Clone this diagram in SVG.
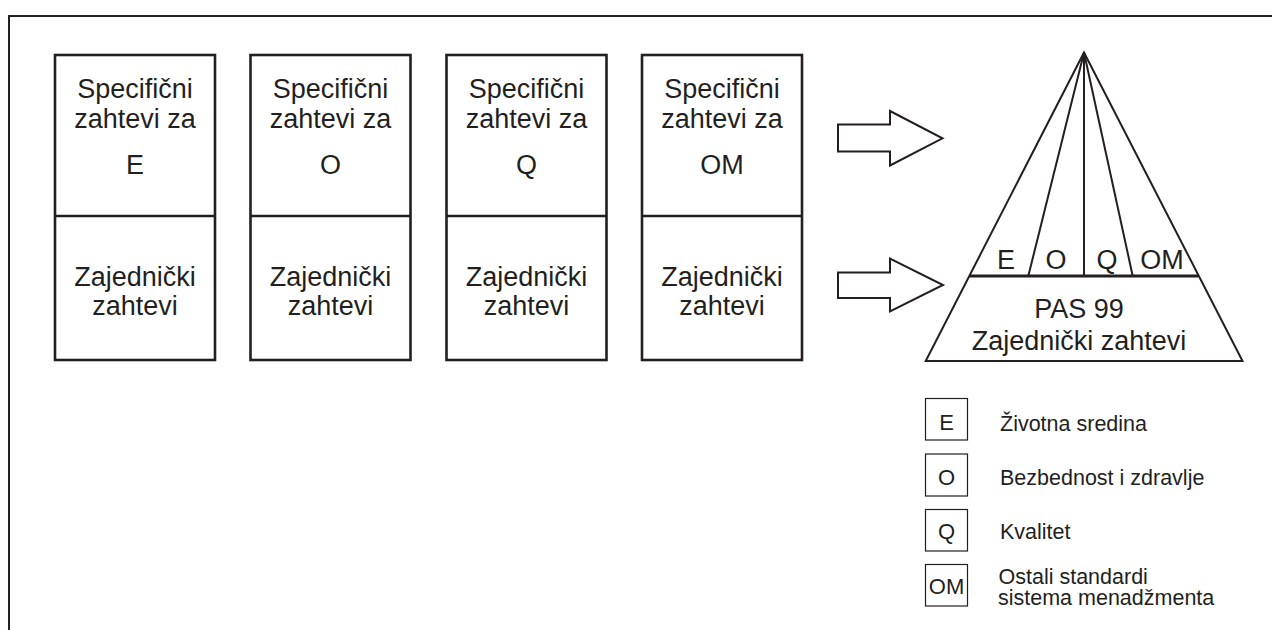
<svg xmlns="http://www.w3.org/2000/svg" width="1272" height="630" viewBox="0 0 1272 630">
<style>
.ln{fill:none;stroke:#231f20;stroke-linejoin:miter}
.box{fill:#fff;stroke:#231f20;stroke-width:2.6}
.t{font-family:"Liberation Sans",Arial,sans-serif;fill:#231f20;text-anchor:middle}
.big{font-size:27px}
.lg{font-size:22px}
.ll{font-family:"Liberation Sans",Arial,sans-serif;fill:#231f20;font-size:21.5px}
</style>
<rect x="0" y="0" width="1272" height="630" fill="#fff"/>
<rect id="frame" x="9" y="16" width="1280" height="640" class="ln" stroke-width="2"/>

<g id="box-e">
<rect class="box" x="55" y="55" width="160" height="305"/>
<line class="ln" stroke-width="2.6" x1="55" y1="216" x2="215" y2="216"/>
<text class="t big" x="135" y="98">Specifični</text>
<text class="t big" x="135" y="127.5">zahtevi za</text>
<text class="t big" x="135" y="173.5">E</text>
<text class="t big" x="135" y="286">Zajednički</text>
<text class="t big" x="135" y="315">zahtevi</text>
</g>
<g id="box-o">
<rect class="box" x="250.5" y="55" width="160" height="305"/>
<line class="ln" stroke-width="2.6" x1="250.5" y1="216" x2="410.5" y2="216"/>
<text class="t big" x="330.5" y="98">Specifični</text>
<text class="t big" x="330.5" y="127.5">zahtevi za</text>
<text class="t big" x="330.5" y="173.5">O</text>
<text class="t big" x="330.5" y="286">Zajednički</text>
<text class="t big" x="330.5" y="315">zahtevi</text>
</g>
<g id="box-q">
<rect class="box" x="446.5" y="55" width="160" height="305"/>
<line class="ln" stroke-width="2.6" x1="446.5" y1="216" x2="606.5" y2="216"/>
<text class="t big" x="526.5" y="98">Specifični</text>
<text class="t big" x="526.5" y="127.5">zahtevi za</text>
<text class="t big" x="526.5" y="173.5">Q</text>
<text class="t big" x="526.5" y="286">Zajednički</text>
<text class="t big" x="526.5" y="315">zahtevi</text>
</g>
<g id="box-om">
<rect class="box" x="642" y="55" width="160" height="305"/>
<line class="ln" stroke-width="2.6" x1="642" y1="216" x2="802" y2="216"/>
<text class="t big" x="722" y="98">Specifični</text>
<text class="t big" x="722" y="127.5">zahtevi za</text>
<text class="t big" x="722" y="173.5">OM</text>
<text class="t big" x="722" y="286">Zajednički</text>
<text class="t big" x="722" y="315">zahtevi</text>
</g>

<g id="connectors">
<polygon class="ln" stroke-width="2" fill="#fff" points="838,124.5 890,124.5 890,111 942.5,138.3 890,165.5 890,151.5 838,151.5"/>
<polygon class="ln" stroke-width="2" fill="#fff" points="838,272.5 890,272.5 890,258.5 943,285 890,311.5 890,298 838,298"/>
</g>

<g id="pyramid">
<polygon class="ln" stroke-width="2" points="1084,52.5 1242.5,361 925.7,361"/>
<line class="ln" stroke-width="2" x1="1084" y1="52.5" x2="1028.3" y2="276"/>
<line class="ln" stroke-width="2" x1="1084" y1="52.5" x2="1084" y2="276"/>
<line class="ln" stroke-width="2" x1="1084" y1="52.5" x2="1132.7" y2="276"/>
<line class="ln" stroke-width="3" x1="969" y1="276" x2="1198" y2="276"/>
<text class="t big" x="1006" y="269">E</text>
<text class="t big" x="1056" y="269">O</text>
<text class="t big" x="1107" y="269">Q</text>
<text class="t big" x="1162" y="269">OM</text>
<text class="t big" x="1079" y="318">PAS 99</text>
<text class="t big" x="1079" y="350">Zajednički zahtevi</text>
</g>

<g id="legend-e">
<rect class="ln" stroke-width="1.2" x="925.5" y="398.5" width="42" height="41.5"/>
<text class="t lg" x="946.5" y="430">E</text>
<text class="ll" x="1000" y="431">Životna sredina</text>
</g>
<g id="legend-o">
<rect class="ln" stroke-width="1.2" x="925.5" y="454" width="42" height="42"/>
<text class="t lg" x="946.5" y="485">O</text>
<text class="ll" x="1000" y="485">Bezbednost i zdravlje</text>
</g>
<g id="legend-q">
<rect class="ln" stroke-width="1.2" x="925.5" y="509.5" width="42" height="41.5"/>
<text class="t lg" x="946.5" y="539">Q</text>
<text class="ll" x="1000" y="538.5">Kvalitet</text>
</g>
<g id="legend-om">
<rect class="ln" stroke-width="1.2" x="925.5" y="564.5" width="42" height="41.5"/>
<text class="t lg" x="946.5" y="594">OM</text>
<text class="ll" x="998.5" y="583.5">Ostali standardi</text>
<text class="ll" x="998" y="605">sistema menadžmenta</text>
</g>
</svg>
